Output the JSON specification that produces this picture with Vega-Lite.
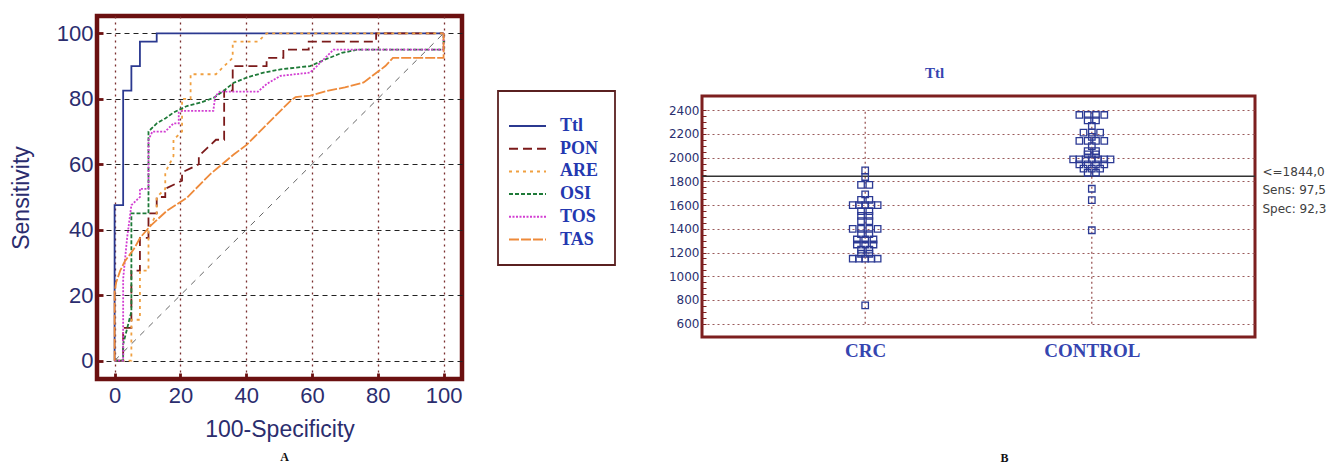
{
  "$schema": "https://vega.github.io/schema/vega-lite/v6.json",
  "background": "white",
  "padding": {"left": 8, "top": 13, "right": 0, "bottom": 0},
  "bounds": "flush",
  "spacing": 240,
  "config": {"legend": {"strokeWidth": 1.8}},
  "datasets": {
    "diag": [{"x": 0, "y": 0}, {"x": 100, "y": 100}],
    "roc": [
      {"s":"Ttl","i":0,"x":0,"y":0},{"s":"Ttl","i":1,"x":0,"y":47.5},{"s":"Ttl","i":2,"x":2.6,"y":47.5},{"s":"Ttl","i":3,"x":2.6,"y":82.5},{"s":"Ttl","i":4,"x":5.1,"y":82.5},{"s":"Ttl","i":5,"x":5.1,"y":90},{"s":"Ttl","i":6,"x":7.7,"y":90},{"s":"Ttl","i":7,"x":7.7,"y":97.5},{"s":"Ttl","i":8,"x":12.8,"y":97.5},{"s":"Ttl","i":9,"x":12.8,"y":100},{"s":"Ttl","i":10,"x":100,"y":100},
      {"s":"PON","i":0,"x":0,"y":0},{"s":"PON","i":1,"x":2.6,"y":0},{"s":"PON","i":2,"x":2.6,"y":10},{"s":"PON","i":3,"x":5.1,"y":10},{"s":"PON","i":4,"x":5.1,"y":27.5},{"s":"PON","i":5,"x":7.7,"y":27.5},{"s":"PON","i":6,"x":7.7,"y":37.5},{"s":"PON","i":7,"x":10.3,"y":37.5},{"s":"PON","i":8,"x":10.3,"y":45},{"s":"PON","i":9,"x":12.8,"y":45},{"s":"PON","i":10,"x":12.8,"y":50},{"s":"PON","i":11,"x":15.4,"y":50},{"s":"PON","i":12,"x":15.4,"y":52.5},{"s":"PON","i":13,"x":20.5,"y":55},{"s":"PON","i":14,"x":20.5,"y":57.5},{"s":"PON","i":15,"x":25.6,"y":60},{"s":"PON","i":16,"x":25.6,"y":62.5},{"s":"PON","i":17,"x":28.2,"y":65},{"s":"PON","i":18,"x":30.8,"y":67.5},{"s":"PON","i":19,"x":33.3,"y":67.5},{"s":"PON","i":20,"x":33.3,"y":82.5},{"s":"PON","i":21,"x":35.9,"y":82.5},{"s":"PON","i":22,"x":35.9,"y":90},{"s":"PON","i":23,"x":46.2,"y":90},{"s":"PON","i":24,"x":46.2,"y":92.5},{"s":"PON","i":25,"x":51.3,"y":92.5},{"s":"PON","i":26,"x":51.3,"y":95},{"s":"PON","i":27,"x":59,"y":95},{"s":"PON","i":28,"x":59,"y":97.5},{"s":"PON","i":29,"x":79.5,"y":97.5},{"s":"PON","i":30,"x":79.5,"y":100},{"s":"PON","i":31,"x":100,"y":100},
      {"s":"ARE","i":0,"x":0,"y":0},{"s":"ARE","i":1,"x":5.1,"y":0},{"s":"ARE","i":2,"x":5.1,"y":12.5},{"s":"ARE","i":3,"x":7.7,"y":12.5},{"s":"ARE","i":4,"x":7.7,"y":27.5},{"s":"ARE","i":5,"x":10.3,"y":27.5},{"s":"ARE","i":6,"x":10.3,"y":40},{"s":"ARE","i":7,"x":12.8,"y":45},{"s":"ARE","i":8,"x":12.8,"y":50},{"s":"ARE","i":9,"x":15.4,"y":52.5},{"s":"ARE","i":10,"x":15.4,"y":57.5},{"s":"ARE","i":11,"x":17.9,"y":62.5},{"s":"ARE","i":12,"x":17.9,"y":67.5},{"s":"ARE","i":13,"x":20.5,"y":70},{"s":"ARE","i":14,"x":20.5,"y":80},{"s":"ARE","i":15,"x":23.1,"y":80},{"s":"ARE","i":16,"x":23.1,"y":87.5},{"s":"ARE","i":17,"x":30.8,"y":87.5},{"s":"ARE","i":18,"x":33.3,"y":90},{"s":"ARE","i":19,"x":35.9,"y":92.5},{"s":"ARE","i":20,"x":35.9,"y":97.5},{"s":"ARE","i":21,"x":43.6,"y":97.5},{"s":"ARE","i":22,"x":46.2,"y":100},{"s":"ARE","i":23,"x":100,"y":100},
      {"s":"OSI","i":0,"x":0,"y":0},{"s":"OSI","i":1,"x":2.6,"y":0},{"s":"OSI","i":2,"x":2.6,"y":5},{"s":"OSI","i":3,"x":5.1,"y":15},{"s":"OSI","i":4,"x":5.1,"y":45},{"s":"OSI","i":5,"x":10.3,"y":45},{"s":"OSI","i":6,"x":10.3,"y":70},{"s":"OSI","i":7,"x":12.8,"y":72.5},{"s":"OSI","i":8,"x":15.4,"y":74},{"s":"OSI","i":9,"x":17.9,"y":75.8},{"s":"OSI","i":10,"x":22,"y":77.8},{"s":"OSI","i":11,"x":26,"y":78.8},{"s":"OSI","i":12,"x":30.1,"y":80.3},{"s":"OSI","i":13,"x":33.1,"y":82.4},{"s":"OSI","i":14,"x":36.2,"y":84.9},{"s":"OSI","i":15,"x":40.2,"y":86.5},{"s":"OSI","i":16,"x":45.3,"y":88},{"s":"OSI","i":17,"x":50.4,"y":89},{"s":"OSI","i":18,"x":59.4,"y":90},{"s":"OSI","i":19,"x":64,"y":92},{"s":"OSI","i":20,"x":69,"y":94},{"s":"OSI","i":21,"x":73.7,"y":95},{"s":"OSI","i":22,"x":100,"y":95},{"s":"OSI","i":23,"x":100,"y":100},
      {"s":"TOS","i":0,"x":0,"y":0},{"s":"TOS","i":1,"x":2.6,"y":0},{"s":"TOS","i":2,"x":2.6,"y":25},{"s":"TOS","i":3,"x":3.8,"y":37.5},{"s":"TOS","i":4,"x":5.1,"y":47.5},{"s":"TOS","i":5,"x":7.7,"y":50},{"s":"TOS","i":6,"x":7.7,"y":52.5},{"s":"TOS","i":7,"x":10.3,"y":52.5},{"s":"TOS","i":8,"x":10.3,"y":67.5},{"s":"TOS","i":9,"x":11.5,"y":70},{"s":"TOS","i":10,"x":15.4,"y":70},{"s":"TOS","i":11,"x":17.9,"y":72.5},{"s":"TOS","i":12,"x":19.5,"y":72.5},{"s":"TOS","i":13,"x":19.5,"y":75.8},{"s":"TOS","i":14,"x":20.5,"y":76.3},{"s":"TOS","i":15,"x":30,"y":76.3},{"s":"TOS","i":16,"x":30.6,"y":80.8},{"s":"TOS","i":17,"x":32,"y":82.2},{"s":"TOS","i":18,"x":43.6,"y":82.2},{"s":"TOS","i":19,"x":46.2,"y":84.5},{"s":"TOS","i":20,"x":50.4,"y":87},{"s":"TOS","i":21,"x":59.4,"y":88},{"s":"TOS","i":22,"x":61.5,"y":90},{"s":"TOS","i":23,"x":64,"y":92.5},{"s":"TOS","i":24,"x":66.5,"y":95},{"s":"TOS","i":25,"x":100,"y":95},{"s":"TOS","i":26,"x":100,"y":100},
      {"s":"TAS","i":0,"x":0,"y":0},{"s":"TAS","i":1,"x":0,"y":21},{"s":"TAS","i":2,"x":0.5,"y":24},{"s":"TAS","i":3,"x":1.7,"y":27.5},{"s":"TAS","i":4,"x":3.2,"y":30.5},{"s":"TAS","i":5,"x":5.8,"y":34},{"s":"TAS","i":6,"x":7.8,"y":37.6},{"s":"TAS","i":7,"x":10.9,"y":41.2},{"s":"TAS","i":8,"x":15.9,"y":45.8},{"s":"TAS","i":9,"x":22,"y":49.8},{"s":"TAS","i":10,"x":29.1,"y":57},{"s":"TAS","i":11,"x":36.2,"y":63},{"s":"TAS","i":12,"x":40.2,"y":66},{"s":"TAS","i":13,"x":46.3,"y":72.2},{"s":"TAS","i":14,"x":53.4,"y":79.3},{"s":"TAS","i":15,"x":55,"y":80.5},{"s":"TAS","i":16,"x":59.5,"y":81},{"s":"TAS","i":17,"x":65,"y":82.5},{"s":"TAS","i":18,"x":70,"y":83.5},{"s":"TAS","i":19,"x":75.7,"y":85},{"s":"TAS","i":20,"x":82.3,"y":90},{"s":"TAS","i":21,"x":84.6,"y":92.5},{"s":"TAS","i":22,"x":100,"y":92.5},{"s":"TAS","i":23,"x":100,"y":100}
    ],
    "groups": [{"g": "CRC"}, {"g": "CONTROL"}],
    "cut": [{"t": 1844}],
    "dots": [
      {"g":"CRC","v":1893,"c":0},{"g":"CRC","v":1837,"c":0},
      {"g":"CRC","v":1770,"c":-1},{"g":"CRC","v":1770,"c":1},
      {"g":"CRC","v":1690,"c":0},
      {"g":"CRC","v":1645,"c":-1},{"g":"CRC","v":1645,"c":1},
      {"g":"CRC","v":1600,"c":-3},{"g":"CRC","v":1600,"c":-1.5},{"g":"CRC","v":1600,"c":0},{"g":"CRC","v":1600,"c":1.5},{"g":"CRC","v":1600,"c":3},
      {"g":"CRC","v":1550,"c":-1},{"g":"CRC","v":1550,"c":1},
      {"g":"CRC","v":1510,"c":-1},{"g":"CRC","v":1510,"c":1},
      {"g":"CRC","v":1465,"c":-1},{"g":"CRC","v":1465,"c":1},
      {"g":"CRC","v":1400,"c":-3},{"g":"CRC","v":1400,"c":-1},{"g":"CRC","v":1400,"c":1},{"g":"CRC","v":1400,"c":3},
      {"g":"CRC","v":1355,"c":-1},{"g":"CRC","v":1355,"c":1},
      {"g":"CRC","v":1310,"c":-2},{"g":"CRC","v":1310,"c":0},{"g":"CRC","v":1310,"c":2},
      {"g":"CRC","v":1268,"c":-2},{"g":"CRC","v":1268,"c":0},{"g":"CRC","v":1268,"c":2},
      {"g":"CRC","v":1225,"c":-1},{"g":"CRC","v":1225,"c":1},
      {"g":"CRC","v":1190,"c":-1},{"g":"CRC","v":1190,"c":1},
      {"g":"CRC","v":1148,"c":-3},{"g":"CRC","v":1148,"c":-1.5},{"g":"CRC","v":1148,"c":0},{"g":"CRC","v":1148,"c":1.5},{"g":"CRC","v":1148,"c":3},
      {"g":"CRC","v":755,"c":0},
      {"g":"CONTROL","v":2360,"c":-3},{"g":"CONTROL","v":2360,"c":-1},{"g":"CONTROL","v":2360,"c":1},{"g":"CONTROL","v":2360,"c":3},
      {"g":"CONTROL","v":2315,"c":-1},{"g":"CONTROL","v":2315,"c":1},
      {"g":"CONTROL","v":2268,"c":0},
      {"g":"CONTROL","v":2211,"c":-2},{"g":"CONTROL","v":2211,"c":0},{"g":"CONTROL","v":2211,"c":2},
      {"g":"CONTROL","v":2175,"c":0},
      {"g":"CONTROL","v":2141,"c":-3},{"g":"CONTROL","v":2141,"c":-1},{"g":"CONTROL","v":2141,"c":1},{"g":"CONTROL","v":2141,"c":3},
      {"g":"CONTROL","v":2098,"c":0},
      {"g":"CONTROL","v":2056,"c":-1},{"g":"CONTROL","v":2056,"c":1},
      {"g":"CONTROL","v":2028,"c":-1},{"g":"CONTROL","v":2028,"c":1},
      {"g":"CONTROL","v":1986,"c":-4.5},{"g":"CONTROL","v":1986,"c":-3},{"g":"CONTROL","v":1986,"c":-1.5},{"g":"CONTROL","v":1986,"c":0},{"g":"CONTROL","v":1986,"c":1.5},{"g":"CONTROL","v":1986,"c":3},{"g":"CONTROL","v":1986,"c":4.5},
      {"g":"CONTROL","v":1944,"c":-3},{"g":"CONTROL","v":1944,"c":-1},{"g":"CONTROL","v":1944,"c":1},{"g":"CONTROL","v":1944,"c":3},
      {"g":"CONTROL","v":1907,"c":-2},{"g":"CONTROL","v":1907,"c":0},{"g":"CONTROL","v":1907,"c":2},
      {"g":"CONTROL","v":1873,"c":-1},{"g":"CONTROL","v":1873,"c":1},
      {"g":"CONTROL","v":1738,"c":0},
      {"g":"CONTROL","v":1642,"c":0},
      {"g":"CONTROL","v":1388,"c":0}
    ]
  },
  "hconcat": [
    {
      "width": 365,
      "height": 363,
      "view": {"stroke": "#6b1010", "strokeWidth": 4.5},
      "title": {"text": "A", "orient": "bottom", "anchor": "middle", "offset": 10, "dx": 5, "font": "Liberation Serif", "fontSize": 12, "fontWeight": "bold", "color": "#111111"},
      "layer": [
        {
          "data": {"name": "diag"},
          "mark": {"type": "line", "color": "#666666", "strokeWidth": 1, "strokeDash": [6, 6]},
          "encoding": {
            "x": {"field": "x", "type": "quantitative", "scale": {"domain": [-5.35, 105.6], "nice": false, "zero": false},
              "axis": {"title": "100-Specificity", "values": [0,5,10,15,20,25,30,35,40,45,50,55,60,65,70,75,80,85,90,95,100], "format": "d",
                "labelExpr": "datum.value % 20 === 0 ? datum.label : ''",
                "grid": true, "gridOpacity": {"condition": {"test": "datum.value % 20 === 0", "value": 1}, "value": 0},
                "gridColor": "#7a2e2e", "gridDash": [2, 4], "gridWidth": 1.3,
                "domain": false, "ticks": true, "tickSize": -6, "tickColor": "#6b1010",
                "tickWidth": {"condition": {"test": "datum.value % 20 === 0", "value": 2.8}, "value": 1.6},
                "labelFont": "Liberation Sans", "labelFontSize": 22, "labelColor": "#2b2d6e", "labelPadding": 12.7,
                "labelFlush": false, "labelOverlap": false, "labelBound": false,
                "titleFont": "Liberation Sans", "titleFontSize": 23, "titleFontWeight": "normal", "titleColor": "#2b2d6e", "titlePadding": 12}},
            "y": {"field": "y", "type": "quantitative", "scale": {"domain": [-5.6, 105.3], "nice": false, "zero": false},
              "axis": {"title": "Sensitivity", "values": [0,5,10,15,20,25,30,35,40,45,50,55,60,65,70,75,80,85,90,95,100], "format": "d",
                "labelExpr": "datum.value % 20 === 0 ? datum.label : ''",
                "grid": true, "gridOpacity": {"condition": {"test": "datum.value % 20 === 0", "value": 1}, "value": 0},
                "gridColor": "#222222", "gridDash": [5, 4], "gridWidth": 1.2,
                "domain": false, "ticks": true, "tickSize": -6, "tickColor": "#6b1010",
                "tickWidth": {"condition": {"test": "datum.value % 20 === 0", "value": 2.8}, "value": 1.6},
                "labelFont": "Liberation Sans", "labelFontSize": 22, "labelColor": "#2b2d6e", "labelPadding": 10,
                "labelFlush": false, "labelOverlap": false, "labelBound": false,
                "titleFont": "Liberation Sans", "titleFontSize": 23, "titleFontWeight": "normal", "titleColor": "#2b2d6e", "titlePadding": 23}}
          }
        },
        {
          "data": {"name": "roc"},
          "mark": {"type": "line", "strokeWidth": 1.8},
          "encoding": {
            "x": {"field": "x", "type": "quantitative", "scale": {"domain": [-5.35, 105.6], "nice": false, "zero": false}},
            "y": {"field": "y", "type": "quantitative", "scale": {"domain": [-5.6, 105.3], "nice": false, "zero": false}},
            "order": {"field": "i", "type": "quantitative"},
            "color": {"field": "s", "type": "nominal",
              "scale": {"domain": ["Ttl", "PON", "ARE", "OSI", "TOS", "TAS"], "range": ["#2b3990", "#7b1a1a", "#f0a040", "#1e7a38", "#d23ed2", "#ee8a3a"]},
              "legend": {"orient": "none", "legendX": 401, "legendY": 75, "title": " ", "titleFontSize": 6, "titlePadding": 2,
                "strokeColor": "#5a2020", "padding": 16, "rowPadding": 2.7, "symbolType": "M-1.6,0L2.1,0", "symbolSize": 400, "symbolStrokeWidth": 2,
                "labelFont": "Liberation Serif", "labelFontWeight": "bold", "labelFontSize": 18, "labelColor": "#2338b0", "labelOffset": 24}},
            "strokeDash": {"field": "s", "type": "nominal",
              "scale": {"domain": ["Ttl", "PON", "ARE", "OSI", "TOS", "TAS"], "range": [[1, 0], [9, 5], [3, 4], [4, 2], [2, 1.5], [10, 2]]},
              "legend": {"orient": "none", "legendX": 401, "legendY": 75, "title": " ", "titleFontSize": 6, "titlePadding": 2,
                "strokeColor": "#5a2020", "padding": 16, "rowPadding": 2.7, "symbolType": "M-1.6,0L2.1,0", "symbolSize": 400, "symbolStrokeWidth": 2,
                "labelFont": "Liberation Serif", "labelFontWeight": "bold", "labelFontSize": 18, "labelColor": "#2338b0", "labelOffset": 24}}
          }
        }
      ]
    },
    {
      "spacing": 14,
      "bounds": "flush",
      "vconcat": [
        {
          "width": 553,
          "height": 66,
          "view": {"stroke": null},
          "data": {"values": [{"t": "Ttl"}]},
          "mark": {"type": "text", "font": "Liberation Serif", "fontSize": 15, "fontWeight": "bold", "color": "#3545b0", "dx": -44, "dy": 24},
          "encoding": {"text": {"field": "t", "type": "nominal"}}
        },
        {
          "width": 553,
          "height": 241,
          "view": {"stroke": "#7d1f1f", "strokeWidth": 3},
          "title": {"text": "B", "orient": "bottom", "anchor": "middle", "offset": 92, "dx": 26, "font": "Liberation Serif", "fontSize": 12, "fontWeight": "bold", "color": "#111111"},
          "resolve": {"axis": {"y": "independent"}},
          "layer": [
            {
              "data": {"name": "groups"},
              "mark": {"type": "rule", "color": "#8a3a3a", "strokeWidth": 1.1, "strokeDash": [2, 3]},
              "encoding": {
                "x": {"field": "g", "type": "nominal", "scale": {"type": "point", "domain": ["CRC", "CONTROL"], "padding": 0.72},
                  "axis": {"title": null, "ticks": false, "domain": false, "grid": false, "labelAngle": 0, "labelPadding": 4.5,
                    "labelFont": "Liberation Serif", "labelFontWeight": "bold", "labelFontSize": 19, "labelColor": "#3545b0"}},
                "y": {"datum": 600, "type": "quantitative", "scale": {"domain": [488, 2520], "nice": false, "zero": false}, "axis": null},
                "y2": {"datum": 2400}
              }
            },
            {
              "data": {"name": "cut"},
              "mark": {"type": "rule", "color": "#333333", "strokeWidth": 1.5},
              "encoding": {
                "y": {"field": "t", "type": "quantitative", "scale": {"domain": [488, 2520], "nice": false, "zero": false},
                  "axis": {"orient": "right", "title": null, "values": [1844], "labelExpr": "['<=1844,0', 'Sens: 97,5', 'Spec: 92,3']",
                    "ticks": false, "domain": false, "grid": false, "labelPadding": 7, "labelBaseline": "top", "labelOffset": -10, "labelLineHeight": 18.7,
                    "labelFont": "DejaVu Sans", "labelFontSize": 12, "labelColor": "#404040", "labelOverlap": false, "labelBound": false, "labelFlush": false}}
              }
            },
            {
              "data": {"name": "dots"},
              "mark": {"type": "square", "filled": false, "size": 42, "color": "#2c3a94", "strokeWidth": 1.3, "opacity": 1},
              "encoding": {
                "x": {"field": "g", "type": "nominal", "scale": {"type": "point", "domain": ["CRC", "CONTROL"], "padding": 0.72}},
                "xOffset": {"field": "c", "type": "quantitative", "scale": {"domain": [-4, 4], "range": [-16.6, 16.6]}},
                "y": {"field": "v", "type": "quantitative", "scale": {"domain": [488, 2520], "nice": false, "zero": false},
                  "axis": {"orient": "left", "title": null, "format": "d",
                    "values": [600,650,700,750,800,850,900,950,1000,1050,1100,1150,1200,1250,1300,1350,1400,1450,1500,1550,1600,1650,1700,1750,1800,1850,1900,1950,2000,2050,2100,2150,2200,2250,2300,2350,2400],
                    "labelExpr": "datum.value % 200 === 0 ? datum.label : ''",
                    "grid": true, "gridOpacity": {"condition": {"test": "datum.value % 200 === 0", "value": 1}, "value": 0},
                    "gridColor": "#9a5a5a", "gridDash": [2, 3], "gridWidth": 1.1,
                    "domain": false, "tickSize": -4, "tickColor": "#7d1f1f", "tickWidth": 1,
                    "labelFont": "DejaVu Sans", "labelFontSize": 12, "labelColor": "#2a3070", "labelPadding": 7,
                    "labelOverlap": false, "labelFlush": false, "labelBound": false}}
              }
            }
          ]
        }
      ]
    }
  ]
}
